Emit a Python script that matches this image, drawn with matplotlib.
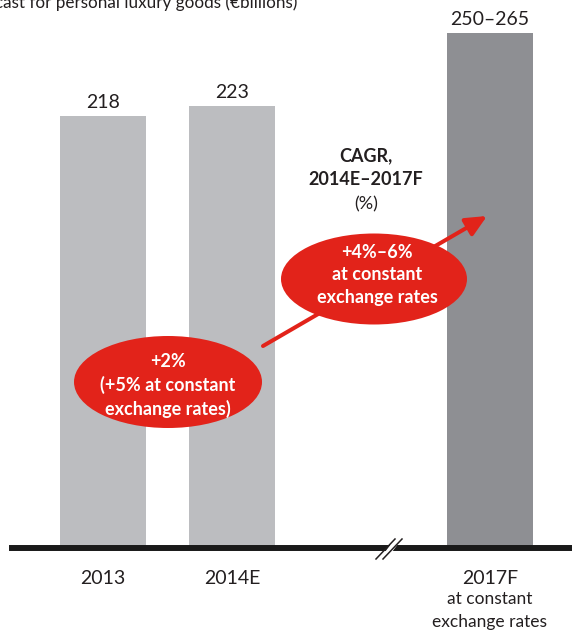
import matplotlib
matplotlib.use("Agg")
import matplotlib.pyplot as plt
from matplotlib.patches import Ellipse, FancyArrowPatch, Polygon
from matplotlib.transforms import blended_transform_factory
from matplotlib.lines import Line2D

plt.rcParams['font.family'] = ['Lato', 'DejaVu Sans']

# ---- data ----
categories = ["2013", "2014E", "2017F"]
positions = [0, 1, 3]
values = [218, 223, 260]
value_labels = ["218", "223", "250\u2013265"]
bar_colors = ["#bcbdc0", "#bcbdc0", "#8e8f93"]
title = "Forecast for personal luxury goods (\u20acbillions)"
cagr_title = ["CAGR,", "2014E\u20132017F", "(%)"]
left_bubble = ["+2%", "(+5% at constant", "exchange rates)"]
right_bubble = ["+4%\u20136%", "at constant", "exchange rates"]
sub_2017 = ["at constant", "exchange rates"]

W, H = 572, 634
fig = plt.figure(figsize=(W / 100, H / 100), dpi=100)

def fx(x):
    return x / W

def fy(y):
    return 1 - y / H

base_px = 548
ax = fig.add_axes([fx(12), fy(base_px), fx(W - 12), base_px / H])
scale = 1.98
ax.set_ylim(0, base_px / scale)
ax.set_xlim((12 - 103) / 129, (572 - 103) / 129)
ax.axis('off')

text_color = "#231f20"
red = "#e2231a"

ax.bar(positions, values, width=86 / 129, color=bar_colors, zorder=2)
ax.axhline(0, color="#1a1a1a", lw=4.3, zorder=3, clip_on=False)

for p, v, lab in zip(positions, values, value_labels):
    ax.annotate(lab, (p, v), xytext=(0, 6.2), textcoords='offset points',
                ha='center', va='baseline', fontsize=14, color=text_color)

bt = blended_transform_factory(ax.transData, fig.transFigure)
for p, c in zip(positions, categories):
    ax.text(p, fy(584), c, transform=bt, ha='center', va='baseline',
            fontsize=14, color=text_color)
for i, s in enumerate(sub_2017):
    ax.text(positions[2], fy(604 + 22.5 * i), s, transform=bt, ha='center',
            va='baseline', fontsize=12.5, color=text_color)

# title (the reference shows it cropped at the top-left edge)
fig.text(fx(297), fy(8), title, ha='right', va='baseline', fontsize=12.3,
         color=text_color)

# break mark on baseline
brk = Polygon([[fx(379), fy(560)], [fx(394), fy(540)], [fx(401), fy(540)],
               [fx(386), fy(560)]], closed=True, transform=fig.transFigure,
              facecolor='white', edgecolor='none', zorder=5)
fig.add_artist(brk)
for dx in (0, 7):
    fig.add_artist(Line2D([fx(376 + dx), fx(395 + dx)], [fy(559), fy(539)],
                          transform=fig.transFigure, color=text_color, lw=1.1,
                          zorder=6))

# arrow
arr = FancyArrowPatch((fx(263), fy(346)), (fx(487), fy(216)),
                      transform=fig.transFigure,
                      arrowstyle='-|>,head_length=0.9,head_width=0.42',
                      mutation_scale=14, color=red, lw=2.9,
                      shrinkA=0, shrinkB=0, zorder=7)
fig.add_artist(arr)

# bubbles
for cx, cy, w, h in [(168, 382, 188, 92), (374, 279, 186, 91)]:
    fig.add_artist(Ellipse((fx(cx), fy(cy)), w / W, h / H,
                           transform=fig.transFigure, facecolor=red,
                           edgecolor='none', zorder=8))

for i, s in enumerate(left_bubble):
    fig.text(fx(168), fy(367 + 24 * i), s, ha='center', va='baseline',
             fontsize=13, fontweight='bold', color='white', zorder=9)
for i, s in enumerate(right_bubble):
    fig.text(fx(377), fy(258 + 22.5 * i), s, ha='center', va='baseline',
             fontsize=13, fontweight='bold', color='white', zorder=9)

# CAGR heading
for i, s in enumerate(cagr_title):
    fig.text(fx(366), fy(161 + 24 * i), s, ha='center', va='baseline',
             fontsize=13, fontweight='bold' if i < 2 else 'normal',
             color=text_color, zorder=9)

fig.savefig("out.png", dpi=100)
